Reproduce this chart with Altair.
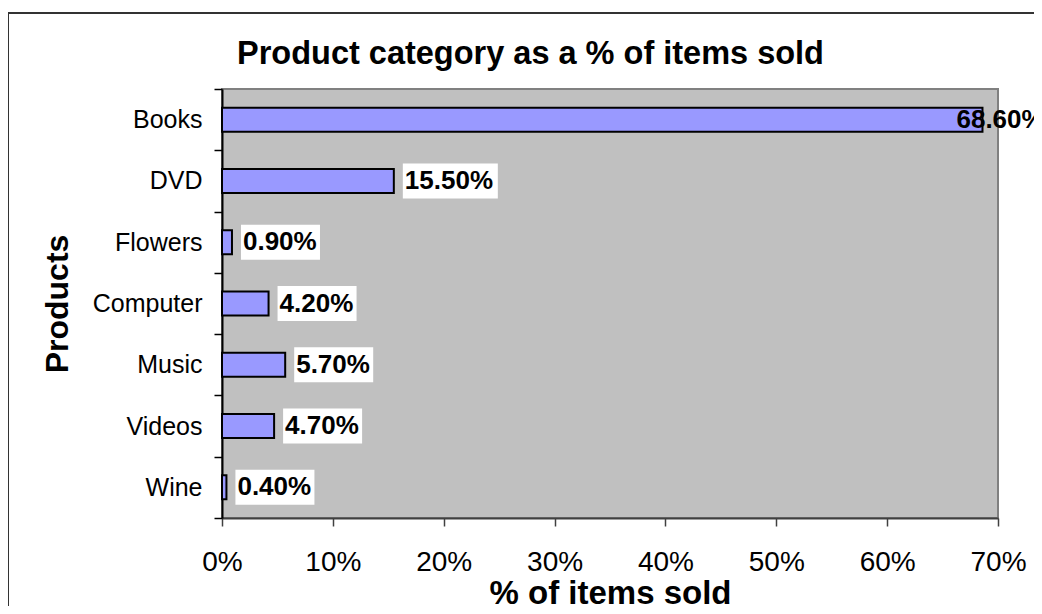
import altair as alt
import pandas as pd

categories = ["Books", "DVD", "Flowers", "Computer", "Music", "Videos", "Wine"]
shares = [68.6, 15.5, 0.9, 4.2, 5.7, 4.7, 0.4]
labels = ["68.60%", "15.50%", "0.90%", "4.20%", "5.70%", "4.70%", "0.40%"]
x_ticks = [0, 10, 20, 30, 40, 50, 60, 70]

FONT = "Liberation Sans"
W, H = 776, 429

df = pd.DataFrame({"category": categories, "share": shares, "label": labels})
frame_df = pd.DataFrame({"k": [0]})

xscale = alt.Scale(domain=[0, 70], nice=False, zero=True)
yscale = alt.Scale(domain=categories, paddingInner=0, paddingOuter=0)

x_axis = alt.Axis(
    values=x_ticks, labelExpr="datum.value + '%'", grid=False, labelFlush=False,
    title="% of items sold", titleFont=FONT, titleFontSize=33, titleFontWeight="bold",
    titleColor="black", titleY=85, titleBaseline="alphabetic",
    labelFont=FONT, labelFontSize=28, labelColor="black", labelPadding=22,
    tickSize=8, tickColor="#404040", tickWidth=1.5,
    domainColor="#404040", domainWidth=2,
)
y_axis = alt.Axis(
    title="Products", titleFont=FONT, titleFontSize=32, titleFontWeight="bold",
    titleColor="black", titleX=-155, titleY=H / 2, titleAngle=270,
    titleBaseline="alphabetic", titleAlign="center",
    labelFont=FONT, labelFontSize=25, labelColor="black", labelPadding=12,
    tickBand="extent", tickSize=8, tickColor="black", tickWidth=1.5,
    domainColor="black", domainWidth=2,
)

base = alt.Chart(df)
ycat = alt.Y("category:N", sort=categories)

bars = base.mark_bar(color="#9999FF", stroke="black", strokeWidth=2, size=24).encode(
    x=alt.X("share:Q", scale=xscale, axis=x_axis),
    y=alt.Y("category:N", sort=categories, scale=yscale, axis=y_axis),
)

box5 = base.transform_filter("datum.share < 60 && length(datum.label) == 5").mark_bar(
    color="white", size=35, xOffset=9, x2Offset=88
).encode(x="share:Q", x2="share:Q", y=ycat)

box6 = base.transform_filter("datum.share < 60 && length(datum.label) == 6").mark_bar(
    color="white", size=35, xOffset=9, x2Offset=104
).encode(x="share:Q", x2="share:Q", y=ycat)

text_out = base.transform_filter("datum.share < 60").mark_text(
    align="left", baseline="middle", dx=11, font=FONT, fontSize=26,
    fontWeight="bold", color="black"
).encode(x="share:Q", y=ycat, text="label:N")

text_in = base.transform_filter("datum.share >= 60").mark_text(
    align="left", baseline="middle", dx=-26, font=FONT, fontSize=26,
    fontWeight="bold", color="black"
).encode(x="share:Q", y=ycat, text="label:N")

frame = alt.Chart(frame_df).mark_rect(
    fill="transparent", stroke="#333333", strokeWidth=2
).encode(
    x=alt.value(-214), x2=alt.value(W + 80),
    y=alt.value(-76), y2=alt.value(H + 140),
)

chart = alt.layer(frame, bars, box5, box6, text_out, text_in).properties(
    width=W, height=H,
    title=alt.TitleParams(
        "Product category as a % of items sold", anchor="start", frame="group", dx=15,
        font=FONT, fontSize=32.5, fontWeight="bold", color="black", offset=-58,
    ),
    autosize=alt.AutoSizeParams(type="none"),
    padding={"left": 214, "top": 81, "right": 36, "bottom": 88},
    background="white",
).configure_view(
    fill="#C0C0C0", stroke="#808080", strokeWidth=2
)

chart.save("out.html", embed_options={"renderer": "svg", "actions": False})
